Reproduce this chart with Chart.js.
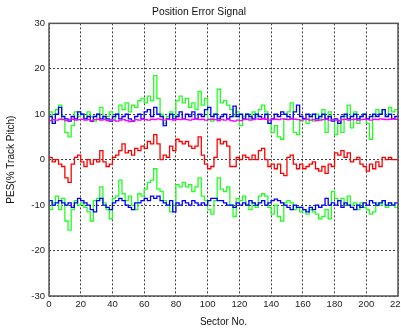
<!DOCTYPE html>
<html>
<head>
<meta charset="utf-8">
<script src="https://cdn.jsdelivr.net/npm/chart.js@4"></script>
<style>
  body { margin: 0; background: #fff; }
  #wrap { width: 401px; height: 328px; }
</style>
</head>
<body>
<div id="wrap"><canvas id="pes-chart"></canvas></div>
<script>
// values every 2 sectors (0..220)
const greenUpper = [
  9.5, 10.5, 8.5, 11, 12, 9, 6, 5, 7.5, 10.5,
  9.5, 10, 9, 10.5, 9.5, 8.5, 10, 11.5, 9, 9.5,
  10.5, 9, 10, 12, 11, 12.5, 10.5, 12, 11.5, 13,
  13.5, 12.5, 14, 13, 18.5, 13.5, 10, 8, 9.5, 10.5,
  9.5, 13, 14, 12.5, 13.5, 11.5, 12.5, 11, 15, 12,
  13.5, 9, 8.5, 10, 15.5, 12.5, 13, 12, 11, 9.5,
  10.5, 7.5, 9.5, 10, 9, 10.5, 9.5, 11, 12, 10.5,
  8, 6, 7.5, 5, 4.5, 9, 10.5, 12.5, 6, 5.5,
  8.5, 9, 8, 9.5, 8.5, 10, 9, 11, 6, 10.5,
  9, 5.5, 8.5, 6, 9.5, 12, 7, 10.5, 8, 9.5,
  10, 8, 4.5, 9.5, 11, 10, 11, 9.5, 11.5, 10.5, 11
];
const blueUpper = [
  8, 9.5, 8, 10, 11.5, 9.5, 9, 8.5, 9.5, 9,
  10.5, 10, 9, 9.5, 8.5, 9.5, 10, 9, 9.5, 9,
  8.5, 9.5, 10, 9, 9.5, 10, 9, 8.5, 9.5, 10,
  9, 10.5, 11, 9.5, 11.5, 10, 9.5, 7.5, 9, 10,
  9, 9.5, 10.5, 9, 10, 9.5, 10.5, 9, 10, 9.5,
  11, 11.5, 9.5, 10, 9, 9.5, 10, 9, 9.5, 11.8,
  9.5, 10, 9, 10, 9.5, 9, 10, 9.5, 9, 10,
  8, 9, 10, 9.5, 10.5, 10, 9.5, 9, 10.5, 12,
  9.5, 9, 10, 9.5, 10, 9, 9.5, 10, 9, 9.5,
  8.5, 9, 8, 9.5, 10, 9, 9.5, 10, 9, 9.5,
  10, 9, 9.5, 10, 9.5, 10, 11, 9.5, 10, 9, 9.5
];
const magenta = [
  8.4, 8.6, 8.8, 8.7, 8.9, 8.8, 8.6, 8.8, 8.9, 8.7,
  8.8, 8.9, 8.7, 8.8, 8.6, 8.8, 8.9, 8.7, 8.8, 8.6,
  8.8, 8.7, 8.5, 8.7, 8.8, 8.6, 8.4, 8.6, 8.8, 8.7,
  8.9, 8.8, 8.7, 8.9, 8.8, 9.0, 8.8, 8.7, 8.9, 8.8,
  8.7, 8.9, 8.8, 9.0, 8.8, 8.7, 8.9, 9.0, 8.8, 8.9,
  8.7, 8.8, 8.9, 8.8, 8.6, 8.8, 8.7, 8.9, 8.6, 8.5,
  8.7, 8.6, 8.8, 8.9, 8.7, 8.8, 9.0, 8.9, 9.1, 8.9,
  8.7, 8.8, 8.9, 8.8, 9.0, 8.9, 8.8, 9.1, 8.9, 8.8,
  8.7, 8.8, 8.9, 8.7, 8.8, 8.6, 8.7, 8.8, 8.9, 8.7,
  8.8, 8.7, 8.6, 8.8, 8.9, 8.7, 8.8, 8.9, 8.7, 8.8,
  8.9, 8.8, 8.7, 8.9, 8.8, 9.0, 8.9, 8.8, 8.9, 9.0, 8.9
];
const red = [
  0, 0.5, -0.5, 0, -1, -1.5, -4, -5, -1, 0.5,
  1, -0.5, -1.5, 0, -1, 0, -0.5, 2, -0.5, -1.5,
  -1, 0.5, 1, 2, 3.5, 1.5, 2, 1, 2.5, 2,
  3, 2.5, 4, 3.5, 5.5, 3.5, 0, 1, 0.5, 3,
  2, 4.5, 4, 3.5, 4, 3, 2.5, 3, 5, 1,
  -1, -2, -1.5, 0.5, 4.5, 3.5, 4, 3, -1.5, -1.5,
  0.5, 0, 1, 0.5, 0, 1, 0, 2, 2.5, 0,
  -1.5, -1, -2, -1, -3, -3.5, 0.5, 1, -1, -2,
  -1, -2, -1.5, -1, -0.5, -2, -2.5, -1.5, -3, -1,
  -1.5, 1.5, 1, 2, 0.5, 1.5, -0.5, 0, 0.5, -1,
  -1.5, -2.5, -1, -2, -0.5, -1.5, 0.5, 0, 0.5, 0, 0
];
const greenLower = [
  -9, -11, -9.5, -8, -11, -8.5, -13.5, -15.5, -11, -9,
  -10, -9.5, -10.5, -11.5, -13.5, -9, -8.5, -6, -9.5, -11,
  -13, -8.5, -8, -4.5, -7.5, -9, -8, -10, -11, -7.5,
  -8, -6.5, -5, -4.5, -2, -6.5, -7, -9, -10, -11.5,
  -10, -5.5, -6, -5, -6, -5.5, -7, -6, -4, -8,
  -9, -11, -12, -9, -4, -6.5, -7, -6, -10, -12.5,
  -8.5, -9, -8, -10, -11, -9.5, -10.5, -8, -7.5, -8,
  -10.5, -12, -10, -12.5, -13.5, -9.5, -9, -9.5, -11, -10.5,
  -11.5, -11, -12, -11, -11.5, -12, -13, -12.5, -11, -13,
  -7, -8.5, -9, -8.5, -10, -8, -10, -9.5, -11, -9.5,
  -10.5, -11, -12, -11.5, -9.5, -10, -9, -10.5, -9.5, -10, -10.5
];
const blueLower = [
  -9.5, -9, -10, -9.5, -9, -9.5, -10, -9.5, -10.5, -9.5,
  -8.5, -9, -9.5, -10, -11, -11.5, -9, -8.5, -10, -10.5,
  -11, -9.5, -9, -8.5, -9, -10, -10.5, -11, -9.5, -9.5,
  -9, -8.5, -9, -8, -8.5, -8, -9, -9.5, -10, -9,
  -11.5, -9.5, -10, -9, -9.5, -10, -9, -9.5, -10, -9.5,
  -10, -9, -8.5, -8.5, -9, -9, -9.5, -10, -10, -10.5,
  -9.5, -10, -9.5, -10, -9, -9.5, -10, -9.5, -9, -10,
  -9.5, -9, -8.7, -9, -9.5, -10, -10.5, -11, -10, -10.5,
  -10.5, -11, -11.5, -10.5, -11, -10, -10.5, -10, -8.5, -10,
  -9.5, -10, -9, -10.5, -9.5, -10, -10.5, -11, -10, -10.5,
  -9.5, -10, -9, -9.5, -10, -9.5, -9, -10, -9.5, -10, -9.5
];

// sector numbers and axis ticks
const sectors = greenUpper.map((v, i) => i * 2);
const xTicks = [0, 20, 40, 60, 80, 100, 120, 140, 160, 180, 200, 220];
const yTicks = [-30, -20, -10, 0, 10, 20, 30];

const FONT = 'Liberation Sans, Arial, sans-serif';

function toPoints(values) {
  return values.map((v, i) => ({ x: sectors[i], y: v }));
}

function line(values, color) {
  return {
    data: toPoints(values),
    borderColor: color,
    borderWidth: 1.3,
    pointRadius: 0,
    stepped: 'after',
    fill: false
  };
}

// box round the plot area, like matlab's axes
const frame = {
  id: 'frame',
  afterDraw(chart) {
    const { ctx, chartArea: a } = chart;
    ctx.save();
    ctx.strokeStyle = '#555';
    ctx.lineWidth = 1.5;
    ctx.strokeRect(a.left, a.top, a.right - a.left, a.bottom - a.top);
    ctx.restore();
  }
};

function createChart() {
  const canvas = document.getElementById('pes-chart');
  new Chart(canvas, {
    type: 'line',
    data: {
      // first dataset is drawn on top
      datasets: [
        line(magenta, '#ff00ff'),
        line(blueUpper, '#0000ff'),
        line(blueLower, '#0000ff'),
        line(red, '#ff0000'),
        line(greenUpper, '#22ff22'),
        line(greenLower, '#22ff22')
      ]
    },
    options: {
      responsive: true,
      maintainAspectRatio: false,
      animation: false,
      layout: { padding: { left: 0, right: 3, top: 0, bottom: 0 } },
      scales: {
        x: {
          type: 'linear',
          min: 0,
          max: 220,
          afterBuildTicks: s => { s.ticks = xTicks.map(v => ({ value: v })); },
          afterFit: s => { s.height = 32; s.paddingLeft = 0; s.paddingRight = 0; },
          grid: { color: 'rgba(0,0,0,0.75)', lineWidth: 1, drawTicks: false },
          border: { display: false, dash: [2, 2] },
          ticks: { color: '#222', padding: 3, maxRotation: 0, font: { family: FONT, size: 9.5 } },
          title: {
            display: true,
            text: 'Sector No.',
            color: '#111',
            padding: { top: 0, bottom: 0 },
            font: { family: FONT, size: 10 }
          }
        },
        y: {
          min: -30,
          max: 30,
          afterBuildTicks: s => { s.ticks = yTicks.map(v => ({ value: v })); },
          afterFit: s => { s.width = 49; },
          grid: { color: 'rgba(0,0,0,0.75)', lineWidth: 1, drawTicks: false },
          border: { display: false, dash: [2, 2] },
          ticks: { color: '#222', padding: 4, font: { family: FONT, size: 9.5 } },
          title: {
            display: true,
            text: 'PES(% Track Pitch)',
            color: '#111',
            padding: { top: 5, bottom: 0 },
            font: { family: FONT, size: 10 }
          }
        }
      },
      plugins: {
        legend: { display: false },
        tooltip: { enabled: false },
        title: {
          display: true,
          text: 'Position Error Signal',
          color: '#111',
          padding: { top: 6, bottom: 5 },
          font: { family: FONT, size: 10.3, weight: 'normal' }
        }
      }
    },
    plugins: [frame]
  });
}

document.addEventListener('DOMContentLoaded', () => createChart());
</script>
</body>
</html>
